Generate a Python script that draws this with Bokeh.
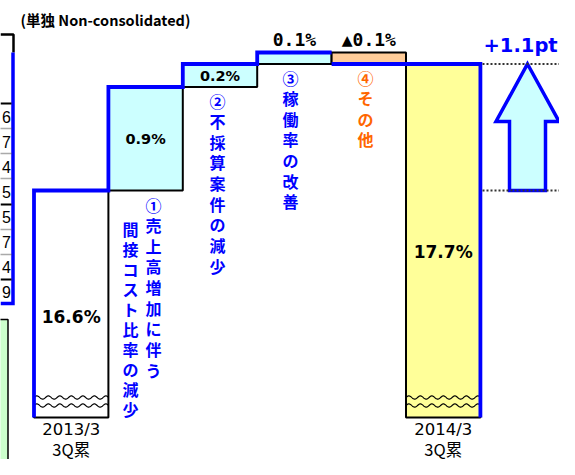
import numpy as np
from bokeh.plotting import figure
from bokeh.models import Range1d
from bokeh.core.properties import value
from bokeh.embed import file_html
from bokeh.resources import INLINE

# ---------------- data ----------------
periods = ["2013/3", "2014/3"]
period_suffix = ["3Q累", "3Q累"]
start_margin = 16.6
end_margin = 17.7
changes = [0.9, 0.2, 0.1, -0.1]
value_labels = ["16.6%", "0.9%", "0.2%", "0.1%", "▲0.1%", "17.7%"]
diff_label = "+1.1pt"
subtitle = "(単独 Non-consolidated)"
factor_columns = [
    ["①売上高増加に伴う", "間接コスト比率の減少"],
    ["②不採算案件の減少"],
    ["③稼働率の改善"],
    ["④その他"],
]
table_digits = ["6", "7", "4", "5", "5", "7", "4", "9"]

# ---------------- layout helpers (picture pixel -> data) ----------------
W, H = 559, 459
X0_PX, X_UNIT = 70.7, 74.4     # centre of first bar, px per category
Y0_PX, Y_UNIT = 190.0, 115.0   # px of start margin, px per percentage point


def xd(px):
    return (px - X0_PX) / X_UNIT


def yd(py):
    return start_margin + (Y0_PX - py) / Y_UNIT


BASE = yd(417)  # broken-axis bottom of the total bars

p = figure(width=W, height=H, output_backend="svg", toolbar_location=None,
           x_range=Range1d(xd(0), xd(W)), y_range=Range1d(yd(H), yd(0)),
           x_axis_location=None, y_axis_location=None, min_border=0)
p.grid.visible = False
p.outline_line_color = None
p.background_fill_color = "white"
p.border_fill_color = "white"

# ---------------- bars ----------------
n = len(changes) + 2
xs = np.arange(n)
bottoms, tops = [BASE], [start_margin]
cum = start_margin
for c in changes:
    bottoms.append(min(cum, cum + c))
    tops.append(max(cum, cum + c))
    cum = round(cum + c, 4)
bottoms.append(BASE)
tops.append(end_margin)
fills = ["#FFFFFF"] + ["#CCFFFF" if c > 0 else "#FFCC99" for c in changes] + ["#FFFF99"]

p.quad(left=xs - 0.5, right=xs + 0.5, bottom=bottoms, top=tops,
       fill_color=fills, line_color="black", line_width=2)

# wavy break marks on total bars
period = 11.5 / X_UNIT
amp = 1.6 / Y_UNIT
for bi in (0, n - 1):
    wx = np.linspace(bi - 0.5, bi + 0.5, 240)
    for wy in (yd(397), yd(405)):
        p.line(wx, wy + amp * np.sin(2 * np.pi * (wx - bi + 0.5) / period),
               line_color="black", line_width=1.2)

# blue profile line
segs_x, segs_y = [], []
sx, sy = [-0.5, -0.5, 0.5], [BASE, start_margin, start_margin]
cum = start_margin
for i, c in enumerate(changes, start=1):
    new = round(cum + c, 4)
    if c > 0:
        sx += [i - 0.5, i + 0.5]
        sy += [new, new]
    else:
        segs_x.append(sx)
        segs_y.append(sy)
        sx, sy = [i - 0.5, i + 0.5], [new, new]
    cum = new
sx += [n - 1.5, n - 0.5, n - 0.5]
sy += [end_margin, end_margin, BASE]
segs_x.append(sx)
segs_y.append(sy)
p.multi_line(segs_x, segs_y, line_color="#0000FF", line_width=3.8, line_join="miter")

# ---------------- value labels ----------------
p.text(x=[0, 5], y=[yd(316), yd(251)], text=[value_labels[0], value_labels[5]],
       text_font=value("DejaVu Sans"), text_font_style="bold", text_font_size="17px",
       text_align="center", text_baseline="middle", text_color="black")
p.text(x=[1, 2], y=[yd(138), yd(75)], text=[value_labels[1], value_labels[2]],
       text_font=value("DejaVu Sans"), text_font_style="bold", text_font_size="14.5px",
       text_align="center", text_baseline="middle", text_color="black")
p.text(x=[3, 4], y=[yd(39), yd(39)], text=[value_labels[3], value_labels[4]],
       text_font=value("DejaVu Sans Mono"), text_font_style="bold", text_font_size="18px",
       text_align="center", text_baseline="middle", text_color="black")

# period labels
p.text(x=[0, n - 1], y=[yd(429), yd(429)], text=periods,
       text_font=value("DejaVu Sans"), text_font_size="16.5px",
       text_align="center", text_baseline="middle", text_color="black")
p.text(x=[0, n - 1], y=[yd(448), yd(448)], text=period_suffix,
       text_font=value("Noto Sans CJK JP"), text_font_size="16.5px",
       text_align="center", text_baseline="middle", text_color="black")

# vertical factor labels
col_texts = ["\n".join(s) for cols in factor_columns for s in cols]
main_cols = [0, 2, 3, 4]
col_pos = [(xd(153), yd(192)), (xd(130), yd(216)), (xd(217), yd(88)),
           (xd(290), yd(65)), (xd(365), yd(65))]
col_colors = ["#0000FF", "#0000FF", "#0000FF", "#0000FF", "#FF6600"]
p.text(x=[col_pos[k][0] for k in main_cols], y=[col_pos[k][1] for k in main_cols],
       text=[col_texts[k] for k in main_cols], text_color=[col_colors[k] for k in main_cols],
       text_font=value("Noto Sans CJK JP"), text_font_style="bold",
       text_font_size="16px", text_line_height=0.86, text_align="center", text_baseline="top")
p.text(x=[col_pos[1][0]], y=[col_pos[1][1]], text=[col_texts[1]], text_color=col_colors[1],
       text_font=value("Noto Sans CJK JP"), text_font_style="bold",
       text_font_size="16px", text_line_height=0.835, text_align="center", text_baseline="top")

# ---------------- +1.1pt arrow ----------------
ax = xd(527)
hw, sw = 31.5 / X_UNIT, 18.0 / X_UNIT
head_base = end_margin - 0.454 * (end_margin - start_margin)
p.patch([ax, ax + hw, ax + sw, ax + sw, ax - sw, ax - sw, ax - hw],
        [end_margin, head_base, head_base, start_margin, start_margin, head_base, head_base],
        fill_color="#CCFFFF", line_color="#0000FF", line_width=3.5, line_join="miter")
p.multi_line([[xd(482), xd(W + 5)], [xd(482), xd(W + 5)]], [[end_margin] * 2, [start_margin] * 2],
             line_color="#333333", line_width=2, line_dash="2 2")
p.text(x=[xd(483)], y=[yd(45)], text=[diff_label], text_color="#0000FF",
       text_font=value("DejaVu Sans"), text_font_style="bold", text_font_size="19.5px",
       text_align="left", text_baseline="middle")

# ---------------- subtitle ----------------
p.text(x=[xd(20)], y=[yd(19)], text=[subtitle], text_font=value("Noto Sans CJK JP"),
       text_font_style="bold", text_font_size="14.5px", text_align="left",
       text_baseline="middle", text_color="black")

# ---------------- neighbouring table / box at left edge ----------------
p.quad(left=[xd(-10)], right=[xd(7.5)], bottom=[yd(H + 10)], top=[yd(319)],
       fill_color="#CCFFCC", line_color="black", line_width=1.5)
p.line([xd(0), xd(13), xd(13)], [yd(34), yd(34), yd(52)], line_color="black", line_width=2.5)
p.line([xd(12.5), xd(12.5), xd(0)], [yd(52), yd(303), yd(303)], line_color="#0000FF",
       line_width=3.5, line_join="miter")
solid_rows = [103, 204, 279]
dot_rows = [128, 153, 178, 229, 254]
p.multi_line([[xd(0), xd(11)]] * 3, [[yd(r)] * 2 for r in solid_rows], line_color="black", line_width=2)
p.multi_line([[xd(0), xd(11)]] * 5, [[yd(r)] * 2 for r in dot_rows], line_color="#555555",
             line_width=1.5, line_dash="1 1")
p.text(x=[xd(10.5)] * len(table_digits), y=[yd(116 + 25 * k) for k in range(len(table_digits))],
       text=table_digits, text_font=value("Liberation Sans"), text_font_size="16px",
       text_align="right", text_baseline="middle", text_color="black")

open("out.html", "w").write(file_html(p, INLINE))
